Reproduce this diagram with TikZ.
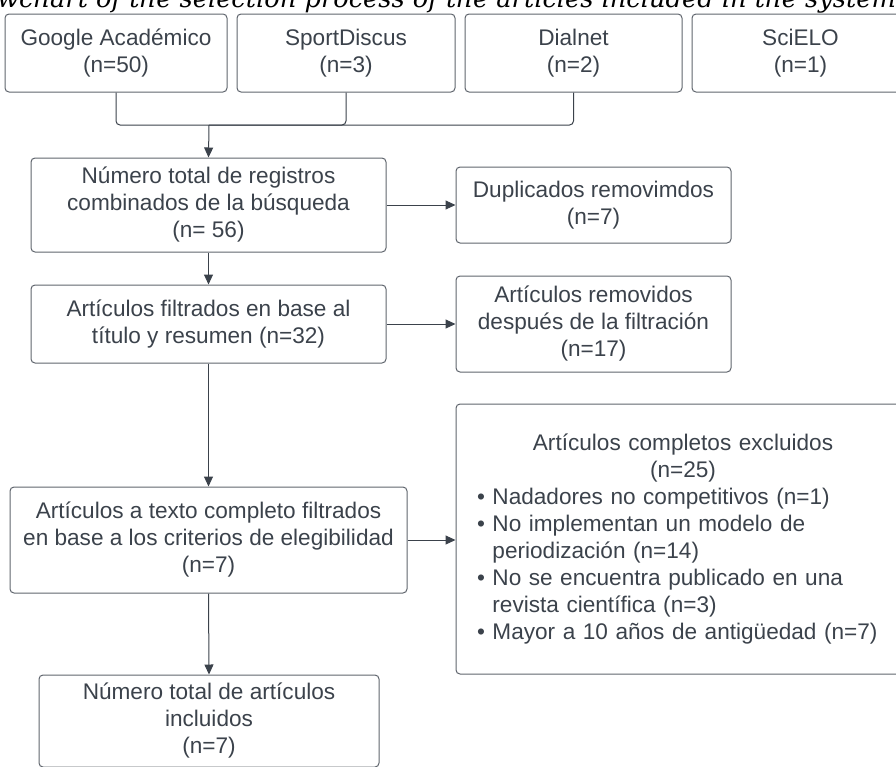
\documentclass[tikz,border=0pt]{standalone}
\usepackage{fontspec}
\setmainfont{Liberation Sans}
\newfontfamily\capfont{DejaVu Serif}
\usetikzlibrary{arrows.meta}
\definecolor{boxline}{HTML}{5F656D}
\definecolor{arrline}{HTML}{3B424B}
\definecolor{txt}{HTML}{3B424B}
\begin{document}
\begin{tikzpicture}[x=1pt,y=-1pt,box/.style={draw=boxline,line width=1pt,rounded corners=4pt,align=center,text=txt,inner sep=2pt,font=\fontsize{22.6}{27}\selectfont},conn/.style={draw=arrline,line width=1pt},>={Triangle[length=10pt,width=9pt]}]
            \useasboundingbox (0,0) rectangle (896,766);
            \node[anchor=base west,inner sep=0pt,font=\capfont\itshape\fontsize{25.7}{30}\selectfont] (ttl) at (-3,7) {\llap{Flo}wchart of the selection process of the articles included in the system\rlap{atic review}};

            \node[box,minimum width=222pt,minimum height=78pt] (gsch) at (116,53) {Google Académico\\(n=50)};
            \node[box,minimum width=218pt,minimum height=78pt] (sprt) at (346,53) {SportDiscus\\(n=3)};
            \node[box,minimum width=217pt,minimum height=78pt] (dial) at (573.5,53) {Dialnet\\(n=2)};
            \node[box,minimum width=217pt,minimum height=78pt] (sclo) at (800.5,53) {SciELO\\(n=1)};
            \coordinate (jn) at (209,125);

            \node[box,minimum width=355pt,minimum height=94pt] (total) at (208.5,205) {Número total de registros\\combinados de la búsqueda\\(n= 56)};
            \node[box,minimum width=275pt,minimum height=76pt] (dupl) at (593.5,205) {Duplicados removimdos\\(n=7)};
            \node[box,minimum width=355pt,minimum height=78pt] (filt) at (208.5,324) {Artículos filtrados en base al\\título y resumen (n=32)};
            \node[box,minimum width=275pt,minimum height=96pt] (remv) at (593.5,324) {Artículos removidos\\después de la filtración\\(n=17)};
            \node[box,minimum width=397pt,minimum height=106pt] (full) at (208.5,540) {Artículos a texto completo filtrados\\en base a los criterios de elegibilidad\\(n=7)};
            \node[box,minimum width=454pt,minimum height=270pt,text width=412pt,align=left] (excl) at (683,539) {{\centering Artículos completos excluidos\\(n=25)\par}
              \textbullet\ Nadadores no competitivos (n=1)\\
              \textbullet\ No implementan un modelo de\\
              \phantom{\textbullet\ }periodización (n=14)\\
              \textbullet\ No se encuentra publicado en una\\
              \phantom{\textbullet\ }revista científica (n=3)\\
              \textbullet\ Mayor a 10 años de antigüedad (n=7)};
            \node[box,minimum width=340pt,minimum height=92pt] (incl) at (209,721) {Número total de artículos\\incluidos\\(n=7)};

            \draw[conn,rounded corners=4pt] (gsch.south) |- (jn) -| (dial.south);
            \draw[conn,rounded corners=4pt] (sprt.south) |- (jn);
            \draw[conn,->] (jn) -- (total.north);
            \draw[conn,->] (total.east) -- (dupl.west);
            \draw[conn,->] (total.south) -- (filt.north);
            \draw[conn,->] (filt.east) -- (remv.west);
            \draw[conn,->] (filt.south) -- (full.north);
            \draw[conn,->] (full.east) -- (full.east -| excl.west);
            \draw[conn,->] (full.south) -- (incl.north);
\end{tikzpicture}
\end{document}
